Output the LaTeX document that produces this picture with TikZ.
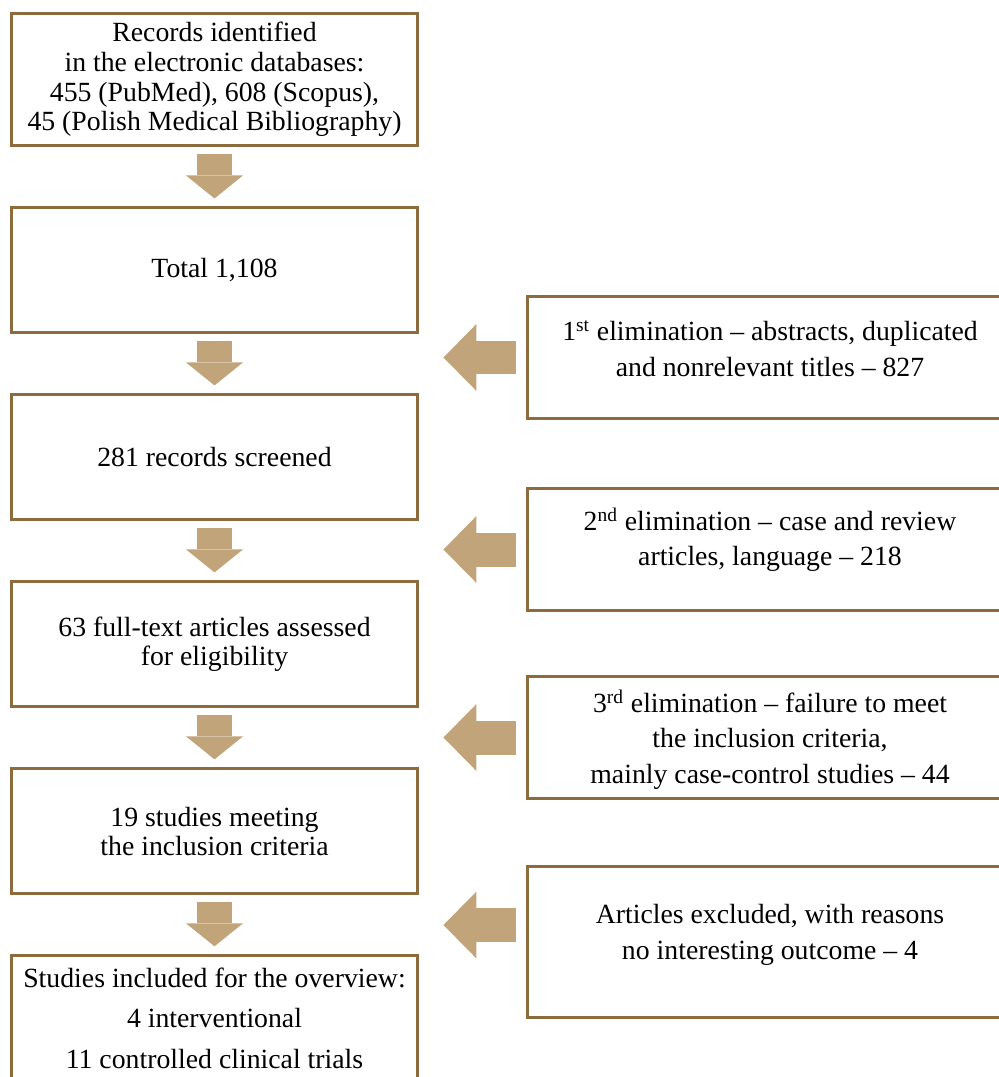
\documentclass[tikz,border=0pt]{standalone}
\usepackage{fontspec}
\setmainfont{Liberation Serif}
\usepackage{xcolor}
\usepackage{tikz}
\usetikzlibrary{arrows.meta, positioning}

\definecolor{boxbrown}{RGB}{140,108,60}
\definecolor{arrowtan}{RGB}{193,164,122}

\begin{document}
\begin{tikzpicture}[
                x=0.02cm, y=-0.02cm,
                node distance=1.18cm,
                lbox/.style={rectangle, draw=boxbrown, line width=0.06cm, minimum width=8.14cm, minimum height=2.5cm, align=center, font=\fontsize{15.8}{16.8}\selectfont},
                rbox/.style={rectangle, draw=boxbrown, line width=0.06cm, minimum width=9.72cm, minimum height=2.46cm},
                rtext/.style={align=center, font=\fontsize{15.8}{20.1}\selectfont},
                downarrow/.style={color=arrowtan, line width=0.7cm, shorten <=0.14cm, shorten >=0.16cm, -{Triangle[length=0.46cm 0, width=1.14cm 0, line width=0pt 0]}},
                leftarrow/.style={color=arrowtan, line width=0.68cm, shorten <=0.2cm, shorten >=0.48cm, -{Triangle[length=0.66cm 0, width=1.34cm 0, line width=0pt 0]}}
            ]
                \useasboundingbox (0,0) rectangle (999,1077);
                \clip (0,0) rectangle (999,1077);

                % Main flow
                \node[lbox, minimum height=2.66cm] (L1) at (214.5,79.5) {Records identified\\ in the electronic databases:\\ 455 (PubMed), 608 (Scopus),\\ 45 (Polish Medical Bibliography)};
                \node[lbox, below=of L1] (L2) {Total 1,108};
                \node[lbox, below=of L2] (L3) {281 records screened};
                \node[lbox, below=of L3] (L4) {63 full-text articles assessed\\ for eligibility};
                \node[lbox, below=of L4] (L5) {19 studies meeting\\ the inclusion criteria};
                \node[lbox, below=of L5] (L6) {Studies included for the overview:\\[6pt] 4 interventional\\[6pt] 11 controlled clinical trials};

                % Exclusions
                \node[rbox] (R1) at (770,357.5) {};
                \node[rbox] (R2) at (770,549.5) {};
                \node[rbox] (R3) at (770,737.5) {};
                \node[rbox, minimum height=3.04cm] (R4) at (770,942) {};
                \node[rtext] (R1t) at ([yshift=0.18cm]R1.center) {1\textsuperscript{st} elimination -- abstracts, duplicated\\ and nonrelevant titles -- 827};
                \node[rtext] (R2t) at ([yshift=0.2cm]R2.center) {2\textsuperscript{nd} elimination -- case and review\\ articles, language -- 218};
                \node[rtext] (R3t) at ([yshift=-0.04cm]R3.center) {3\textsuperscript{rd} elimination -- failure to meet\\ the inclusion criteria,\\ mainly case-control studies -- 44};
                \node[rtext] (R4t) at ([yshift=0.14cm]R4.center) {Articles excluded, with reasons\\ no interesting outcome -- 4};

                % Arrows
                \path[downarrow]
                    (L1) edge (L2)
                    (L2) edge (L3)
                    (L3) edge (L4)
                    (L4) edge (L5)
                    (L5) edge (L6);
                \coordinate (R4a) at ([yshift=0.34cm]R4.west);
                \path[leftarrow]
                    (R1) edge (R1 -| L2.east)
                    (R2) edge (R2 -| L3.east)
                    (R3) edge (R3 -| L4.east)
                    (R4a) edge (R4a -| L5.east);
            \end{tikzpicture}
\end{document}
